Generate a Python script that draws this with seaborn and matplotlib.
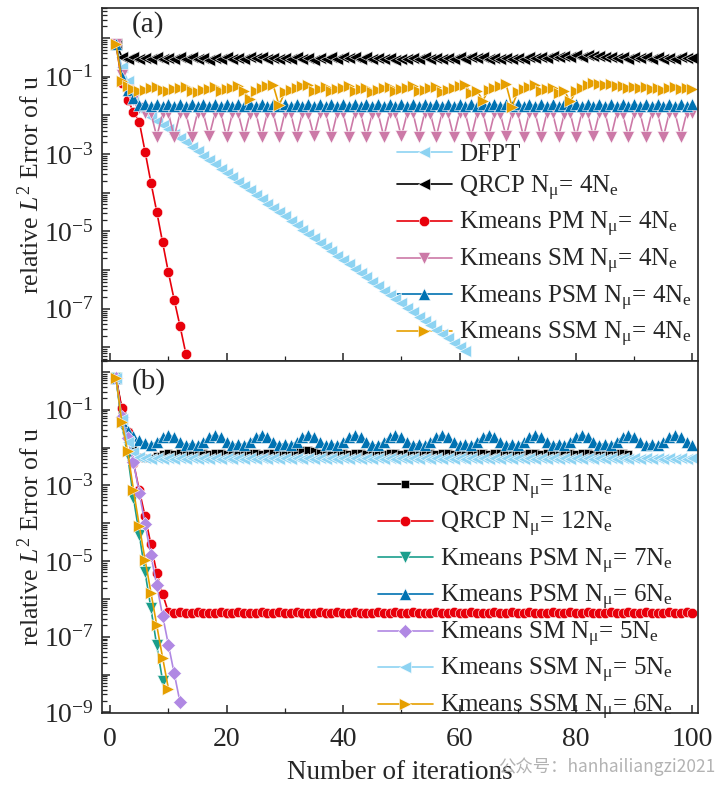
import numpy as np
import matplotlib
matplotlib.use("Agg")
import matplotlib.pyplot as plt
import seaborn as sns
from matplotlib.ticker import FixedLocator, FuncFormatter, LogLocator, MultipleLocator, NullFormatter

# values are log10(relative L2 error), one per iteration starting at 1

# panel (a)
dfpt_a = [-0.15, -0.75, -1.10, -1.50, -1.80, -1.91, -2.03, -2.14, -2.25, -2.36,
          -2.48, -2.59, -2.70, -2.81, -2.93, -3.04, -3.15, -3.26, -3.38, -3.49,
          -3.60, -3.71, -3.83, -3.94, -4.05, -4.16, -4.28, -4.39, -4.50, -4.61,
          -4.73, -4.84, -4.95, -5.06, -5.18, -5.29, -5.40, -5.51, -5.63, -5.74,
          -5.85, -5.96, -6.08, -6.19, -6.30, -6.41, -6.53, -6.64, -6.75, -6.86,
          -6.98, -7.09, -7.20, -7.31, -7.43, -7.54, -7.65, -7.76, -7.88, -7.99,
          -8.10]

qrcp4_a = [-0.15, -0.48, -0.53, -0.50, -0.55, -0.51, -0.53, -0.49, -0.54, -0.51,
           -0.55, -0.50, -0.53, -0.49, -0.54, -0.52, -0.56, -0.51, -0.53, -0.50,
           -0.55, -0.51, -0.54, -0.50, -0.52, -0.49, -0.54, -0.51, -0.55, -0.52,
           -0.54, -0.50, -0.53, -0.51, -0.56, -0.52, -0.54, -0.50, -0.53, -0.49,
           -0.52, -0.48, -0.53, -0.50, -0.54, -0.51, -0.55, -0.52, -0.56, -0.53,
           -0.55, -0.51, -0.54, -0.50, -0.53, -0.51, -0.55, -0.52, -0.54, -0.50,
           -0.53, -0.49, -0.52, -0.50, -0.54, -0.51, -0.55, -0.52, -0.54, -0.51,
           -0.53, -0.50, -0.52, -0.48, -0.51, -0.47, -0.50, -0.46, -0.49, -0.45,
           -0.48, -0.44, -0.47, -0.46, -0.50, -0.48, -0.52, -0.49, -0.53, -0.50,
           -0.52, -0.49, -0.53, -0.50, -0.54, -0.51, -0.53, -0.50, -0.52, -0.51]

pm4_a = [-0.15, -1.15, -1.60, -1.90, -2.17, -2.94, -3.74, -4.49, -5.28, -6.06,
         -6.77, -7.45, -8.16]

sm4_a = [-0.15, -0.95, -1.35, -1.60, -1.80, -1.95, -1.94, -2.55, -1.95, -1.93,
         -2.56, -1.94, -1.96, -2.55, -1.93, -1.95, -2.54, -1.95, -1.94, -2.56,
         -1.94, -1.95, -2.55, -1.96, -1.93, -2.55, -1.94, -1.95, -2.56, -1.93,
         -1.95, -2.55, -1.94, -1.96, -2.54, -1.95, -1.94, -2.55, -1.93, -1.95,
         -2.56, -1.94, -1.95, -2.55, -1.96, -1.94, -2.55, -1.93, -1.95, -2.54,
         -1.95, -1.94, -2.56, -1.94, -1.96, -2.55, -1.93, -1.95, -2.55, -1.94,
         -1.95, -2.56, -1.95, -1.93, -2.55, -1.94, -1.96, -2.54, -1.95, -1.94,
         -2.55, -1.93, -1.95, -2.56, -1.94, -1.95, -2.55, -1.96, -1.94, -2.55,
         -1.93, -1.95, -2.54, -1.95, -1.94, -2.56, -1.94, -1.96, -2.55, -1.93,
         -1.95, -2.55, -1.94, -1.95, -2.56, -1.95, -1.93, -2.55, -1.94, -1.95]

psm4_a = [-0.15, -1.00, -1.35, -1.55, -1.72, -1.70, -1.76, -1.70, -1.76, -1.70,
          -1.76, -1.70, -1.76, -1.70, -1.76, -1.70, -1.76, -1.70, -1.76, -1.70,
          -1.76, -1.70, -1.76, -1.70, -1.76, -1.70, -1.76, -1.70, -1.76, -1.70,
          -1.76, -1.70, -1.76, -1.70, -1.76, -1.70, -1.76, -1.70, -1.76, -1.70,
          -1.76, -1.70, -1.76, -1.70, -1.76, -1.70, -1.76, -1.70, -1.76, -1.70,
          -1.76, -1.70, -1.76, -1.70, -1.76, -1.70, -1.76, -1.70, -1.76, -1.70,
          -1.76, -1.70, -1.76, -1.70, -1.76, -1.70, -1.76, -1.70, -1.76, -1.70,
          -1.76, -1.70, -1.76, -1.70, -1.76, -1.70, -1.76, -1.70, -1.76, -1.70,
          -1.76, -1.70, -1.76, -1.70, -1.76, -1.70, -1.76, -1.70, -1.76, -1.70,
          -1.76, -1.70, -1.76, -1.70, -1.76, -1.70, -1.76, -1.70, -1.76, -1.70]

ssm4_a = [-0.15, -1.10, -1.25, -1.32,
          -1.38, -1.34, -1.30, -1.27, -1.35, -1.38, -1.33, -1.29, -1.26, -1.36,
          -1.40, -1.35, -1.31, -1.27, -1.37, -1.33, -1.28, -1.24, -1.38, -1.58,
          -1.36, -1.30, -1.25, -1.22, -1.74, -1.40, -1.34, -1.29, -1.25, -1.21,
          -1.36, -1.31, -1.27, -1.38, -1.33, -1.28, -1.24, -1.37, -1.32, -1.28,
          -1.40, -1.35, -1.30, -1.26, -1.37, -1.33, -1.29, -1.25, -1.38, -1.34,
          -1.30, -1.26, -1.39, -1.34, -1.29, -1.25, -1.22, -1.42, -1.36, -1.62,
          -1.34, -1.28, -1.23, -1.20, -1.77, -1.40, -1.33, -1.27, -1.22, -1.38,
          -1.33, -1.28, -1.42, -1.36, -1.64, -1.38, -1.30, -1.22, -1.16, -1.18,
          -1.22, -1.20, -1.25, -1.23, -1.28, -1.26, -1.30, -1.27, -1.32, -1.29,
          -1.34, -1.30, -1.27, -1.33, -1.29, -1.31]

# panel (b)
qrcp11_b = [-0.15, -1.00, -1.60, -2.05, -2.25, -2.28, -2.27, -2.22, -2.18, -2.15,
            -2.16, -2.14, -2.15, -2.16, -2.14, -2.15, -2.16, -2.14, -2.15, -2.16,
            -2.14, -2.15, -2.16, -2.14, -2.15, -2.16, -2.14, -2.15, -2.16, -2.14,
            -2.12, -2.09, -2.07, -2.06, -2.10, -2.14, -2.15, -2.16, -2.14, -2.15,
            -2.16, -2.14, -2.15, -2.16, -2.14, -2.15, -2.16, -2.14, -2.15, -2.16,
            -2.14, -2.15, -2.16, -2.14, -2.15, -2.16, -2.14, -2.15, -2.16, -2.14,
            -2.15, -2.16, -2.14, -2.15, -2.16, -2.14, -2.15, -2.16, -2.14, -2.15,
            -2.16, -2.14, -2.15, -2.16, -2.14, -2.15, -2.16, -2.14, -2.15, -2.16,
            -2.14, -2.15, -2.16, -2.14, -2.15, -2.16, -2.14, -2.15, -2.16]

qrcp12_b = [-0.15, -0.95, -1.60, -2.40, -3.13, -3.82, -4.56, -5.31, -5.87, -6.35,
            -6.37, -6.35, -6.38, -6.36, -6.35, -6.37, -6.36, -6.38, -6.35, -6.37,
            -6.36, -6.35, -6.38, -6.36, -6.37, -6.35, -6.36, -6.38, -6.35, -6.37,
            -6.36, -6.35, -6.38, -6.36, -6.37, -6.35, -6.36, -6.38, -6.35, -6.37,
            -6.36, -6.35, -6.38, -6.36, -6.37, -6.35, -6.36, -6.38, -6.35, -6.37,
            -6.36, -6.35, -6.38, -6.36, -6.37, -6.35, -6.36, -6.38, -6.35, -6.37,
            -6.36, -6.35, -6.38, -6.36, -6.37, -6.35, -6.36, -6.38, -6.35, -6.37,
            -6.36, -6.35, -6.38, -6.36, -6.37, -6.35, -6.36, -6.38, -6.35, -6.37,
            -6.36, -6.35, -6.38, -6.36, -6.37, -6.35, -6.36, -6.38, -6.35, -6.37,
            -6.36, -6.35, -6.38, -6.36, -6.37, -6.35, -6.36, -6.38, -6.35, -6.37]

psm7_b = [-0.15, -1.40, -2.20, -3.33, -4.30, -5.30, -6.25, -7.23, -8.16]

psm6_b = [-0.15, -1.30, -1.55, -1.70, -1.80, -1.88, -1.93, -1.85, -1.72, -1.66,
          -1.72, -1.85, -1.93, -1.90, -1.93, -1.85, -1.72, -1.66, -1.72, -1.85,
          -1.93, -1.90, -1.93, -1.85, -1.72, -1.66, -1.72, -1.85, -1.93, -1.90,
          -1.93, -1.85, -1.72, -1.66, -1.72, -1.85, -1.93, -1.90, -1.93, -1.85,
          -1.72, -1.66, -1.72, -1.85, -1.93, -1.93, -1.85, -1.72, -1.66, -1.72,
          -1.85, -1.93, -1.90, -1.93, -1.85, -1.72, -1.66, -1.72, -1.85, -1.93,
          -1.90, -1.93, -1.85, -1.72, -1.66, -1.72, -1.85, -1.93, -1.90, -1.93,
          -1.85, -1.72, -1.66, -1.72, -1.85, -1.93, -1.90, -1.93, -1.85, -1.72,
          -1.66, -1.72, -1.85, -1.93, -1.90, -1.93, -1.85, -1.72, -1.66, -1.72,
          -1.85, -1.93, -1.90, -1.93, -1.85, -1.72, -1.66, -1.72, -1.85, -1.93]

sm5_b = [-0.15, -1.20, -1.75, -2.38, -3.20, -4.03, -4.85, -5.64, -6.44, -7.21,
         -7.97, -8.73]

ssm5_b = [-0.15, -1.25, -1.85, -2.12, -2.24, -2.28, -2.31, -2.28, -2.31, -2.28,
          -2.31, -2.28, -2.31, -2.28, -2.31, -2.28, -2.31, -2.28, -2.31, -2.28,
          -2.31, -2.28, -2.31, -2.28, -2.31, -2.28, -2.31, -2.28, -2.31, -2.28,
          -2.31, -2.28, -2.31, -2.28, -2.31, -2.28, -2.31, -2.28, -2.31, -2.28,
          -2.31, -2.28, -2.31, -2.28, -2.31, -2.28, -2.31, -2.28, -2.31, -2.28,
          -2.31, -2.28, -2.31, -2.28, -2.31, -2.28, -2.31, -2.28, -2.31, -2.28,
          -2.31, -2.28, -2.31, -2.28, -2.31, -2.28, -2.31, -2.28, -2.31, -2.28,
          -2.31, -2.28, -2.31, -2.28, -2.31, -2.28, -2.31, -2.28, -2.31, -2.28,
          -2.31, -2.28, -2.31, -2.28, -2.31, -2.28, -2.31, -2.28, -2.31, -2.28,
          -2.31, -2.28, -2.31, -2.28, -2.31, -2.28, -2.31, -2.28, -2.31, -2.28]

ssm6_b = [-0.15, -1.33, -2.10, -3.12, -4.07, -4.97, -5.83, -6.70, -7.55, -8.37]

nu = r"N$_{\mathregular{μ}}$="
labels_a = ["DFPT",
            "QRCP " + nu + r" 4N$_{\mathregular{e}}$",
            "Kmeans PM " + nu + r" 4N$_{\mathregular{e}}$",
            "Kmeans SM " + nu + r" 4N$_{\mathregular{e}}$",
            "Kmeans PSM " + nu + r" 4N$_{\mathregular{e}}$",
            "Kmeans SSM " + nu + r" 4N$_{\mathregular{e}}$"]
labels_b = ["QRCP " + nu + r" 11N$_{\mathregular{e}}$",
            "QRCP " + nu + r" 12N$_{\mathregular{e}}$",
            "Kmeans PSM " + nu + r" 7N$_{\mathregular{e}}$",
            "Kmeans PSM " + nu + r" 6N$_{\mathregular{e}}$",
            "Kmeans SM " + nu + r" 5N$_{\mathregular{e}}$",
            "Kmeans SSM " + nu + r" 5N$_{\mathregular{e}}$",
            "Kmeans SSM " + nu + r" 6N$_{\mathregular{e}}$"]

c_black = "#000000"
c_red = "#E8000B"
c_pink = "#CC79A7"
c_blue = "#0072B2"
c_orange = "#E69F00"
c_sky = "#8DD3F2"
c_teal = "#1A9E8C"
c_purple = "#B088E3"

sns.set_style("ticks")
plt.rcParams["font.family"] = ["Liberation Serif", "DejaVu Serif"]
plt.rcParams["mathtext.fontset"] = "custom"
plt.rcParams["mathtext.rm"] = "Liberation Serif"
plt.rcParams["mathtext.it"] = "Liberation Serif:italic"
plt.rcParams["axes.linewidth"] = 1.2


def draw(ax, exps, color, marker, label, ms=8.5):
    y = 10.0 ** np.array(exps)
    x = np.arange(1, len(y) + 1)
    sns.lineplot(x=x, y=y, ax=ax, color=color, marker=marker, markersize=ms,
                 markeredgewidth=0.4, markeredgecolor="white", linewidth=1.2,
                 label=label)


fig, (ax_a, ax_b) = plt.subplots(2, 1, figsize=(7.2, 7.95), dpi=100, sharex=True)
fig.subplots_adjust(left=0.1417, right=0.969, top=0.990, bottom=0.103, hspace=0)

for ax in (ax_a, ax_b):
    ax.set_yscale("log")

draw(ax_a, dfpt_a, c_sky, "<", labels_a[0])
draw(ax_a, qrcp4_a, c_black, "<", labels_a[1])
draw(ax_a, pm4_a, c_red, "o", labels_a[2], ms=7.5)
draw(ax_a, sm4_a, c_pink, "v", labels_a[3])
draw(ax_a, psm4_a, c_blue, "^", labels_a[4])
draw(ax_a, ssm4_a, c_orange, ">", labels_a[5])

draw(ax_b, qrcp11_b, c_black, "s", labels_b[0], ms=6)
draw(ax_b, qrcp12_b, c_red, "o", labels_b[1], ms=7.5)
draw(ax_b, psm7_b, c_teal, "v", labels_b[2])
draw(ax_b, psm6_b, c_blue, "^", labels_b[3])
draw(ax_b, sm5_b, c_purple, "D", labels_b[4], ms=7)
draw(ax_b, ssm5_b, c_sky, "<", labels_b[5])
draw(ax_b, ssm6_b, c_orange, ">", labels_b[6])

ax_a.set_ylim(4.6e-9, 6.0)
ax_b.set_ylim(9.6e-10, 2.0)
ax_b.set_xlim(-1.4, 100.9)


def fmt_exp(v, pos):
    e = int(round(np.log10(v)))
    if e % 2 == 0:
        return ""
    return r"$\mathregular{10^{%d}}$" % e


# only decades inside each panel's range
decades = {ax_a: np.arange(-8, 1), ax_b: np.arange(-9, 1)}

for ax in (ax_a, ax_b):
    ax.yaxis.set_major_locator(FixedLocator(10.0 ** decades[ax]))
    ax.yaxis.set_major_formatter(FuncFormatter(fmt_exp))
    ax.yaxis.set_minor_locator(LogLocator(base=10, subs=np.arange(2, 10), numticks=40))
    ax.yaxis.set_minor_formatter(NullFormatter())
    ax.xaxis.set_major_locator(MultipleLocator(20))
    ax.xaxis.set_minor_locator(MultipleLocator(10))
    ax.tick_params(which="major", direction="in", length=6, width=1.1,
                   labelsize=20, top=False, right=False, pad=6)
    ax.tick_params(which="minor", direction="in", length=3.5, width=0.9,
                   top=False, right=False)
    ax.set_ylabel(r"relative $L^{2}$ Error of u", fontsize=18.5, labelpad=0)

ax_a.tick_params(axis="x", labelbottom=False)
ax_b.tick_params(axis="x", pad=10)
ax_b.set_xlabel("Number of iterations", fontsize=19.5, labelpad=6)

ax_a.text(0.05, 0.99, "(a)", transform=ax_a.transAxes, va="top", fontsize=21)
ax_b.text(0.05, 0.98, "(b)", transform=ax_b.transAxes, va="top", fontsize=21)

leg_kw = dict(frameon=False, fontsize=18, loc="upper left", borderpad=0,
              borderaxespad=0, handlelength=2.2, handletextpad=0.3,
              labelspacing=0.3)
leg_a = ax_a.legend(bbox_to_anchor=(0.495, 0.615), **leg_kw)
leg_b = ax_b.legend(bbox_to_anchor=(0.463, 0.68), **leg_kw)
leg_a.set_zorder(1)
leg_b.set_zorder(1)

# watermark, kept just right of the x label
fig.text(0.993, 0.036, "公众号：hanhailiangzi2021", fontsize=12.5, color="#a0a0a0",
         alpha=0.8, family=["Noto Sans CJK SC", "DejaVu Sans"], va="center", ha="right")

fig.savefig("out.png", dpi=100)
